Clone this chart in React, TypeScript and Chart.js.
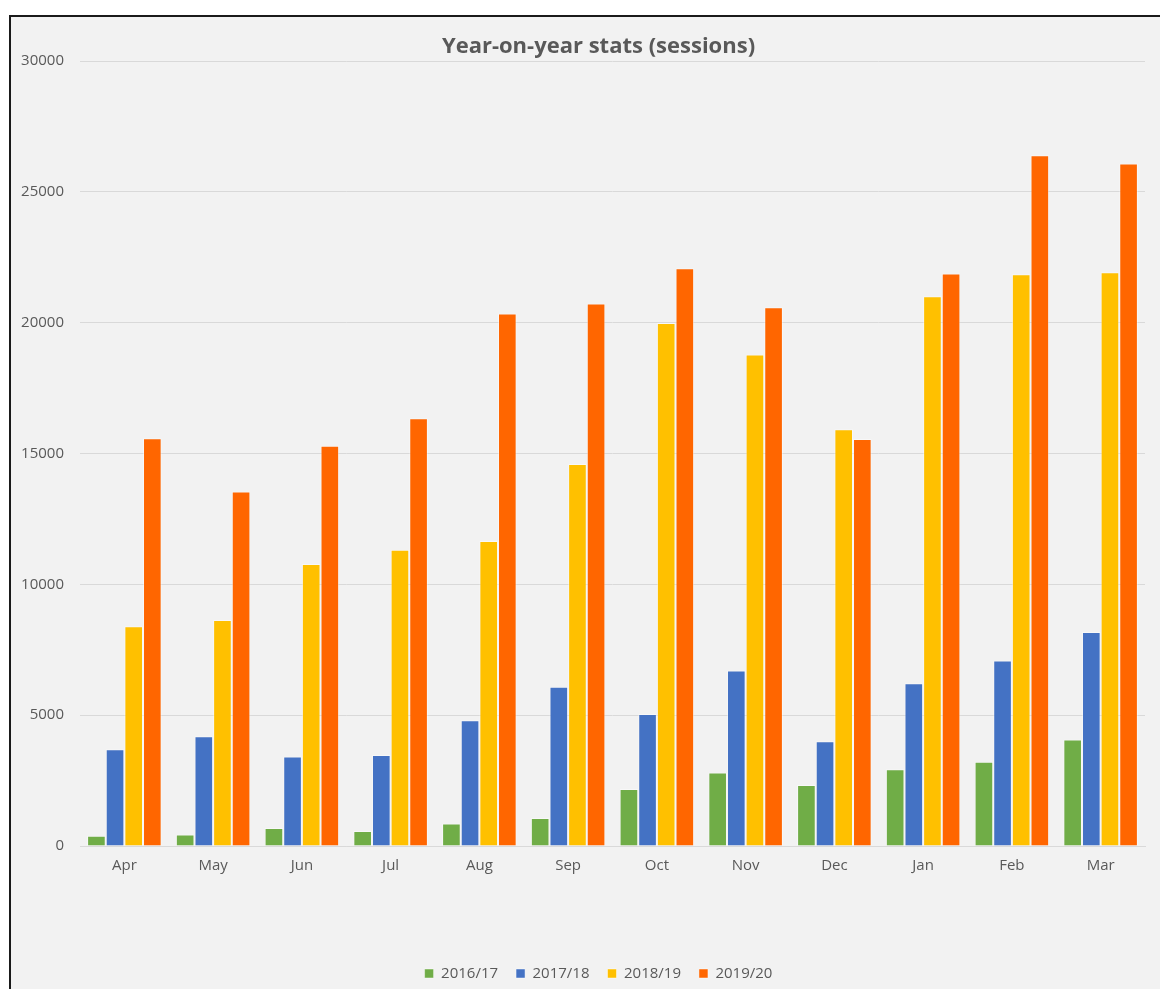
import React, { useEffect, useRef } from "react";
import { Chart, registerables } from "chart.js";

Chart.register(...registerables);

const months = ["Apr", "May", "Jun", "Jul", "Aug", "Sep", "Oct", "Nov", "Dec", "Jan", "Feb", "Mar"];
const seriesLabels = ["2016/17", "2017/18", "2018/19", "2019/20"];
const s2016 = [390, 440, 690, 570, 860, 1070, 2180, 2810, 2330, 2930, 3220, 4070];
const s2017 = [3700, 4190, 3420, 3480, 4810, 6090, 5040, 6710, 4000, 6220, 7090, 8180];
const s2018 = [8400, 8640, 10780, 11320, 11660, 14600, 19990, 18780, 15930, 21010, 21850, 21930];
const s2019 = [15580, 13550, 15300, 16350, 20350, 20730, 22080, 20590, 15550, 21880, 26400, 26080];
const seriesColors = ["#70ad47", "#4472c4", "#ffc000", "#ff6600"];
const yMin = 0;
const yMax = 30000;
const yStep = 5000;

const TEXT = "#595959";
const GRID = "#d9d9d9";
const FONT = "'Open Sans', 'Noto Sans', sans-serif";

const CANVAS_W = 1179;
const CANVAS_H = 976;

export default function App() {
  const ref = useRef<HTMLCanvasElement>(null);

  useEffect(() => {
    if (!ref.current) return;
    const allSeries = [s2016, s2017, s2018, s2019];
    const chart = new Chart(ref.current, {
      type: "bar",
      data: {
        labels: months,
        datasets: allSeries.map((d, i) => ({
          label: seriesLabels[i],
          data: d,
          backgroundColor: seriesColors[i],
          borderColor: "rgba(255,255,255,0.45)",
          borderWidth: 1,
          categoryPercentage: 0.84,
          barPercentage: 1,
        })),
      },
      options: {
        responsive: false,
        animation: false,
        devicePixelRatio: 1,
        layout: { padding: { top: 18.8, left: 0, right: 0, bottom: 0 } },
        plugins: {
          title: {
            display: true,
            text: "Year-on-year stats (sessions)",
            color: TEXT,
            font: { family: FONT, size: 22, weight: "bold" },
            padding: { top: 0, bottom: 0.8 },
          },
          legend: {
            position: "bottom",
            labels: {
              boxWidth: 9,
              boxHeight: 9,
              padding: 18,
              color: TEXT,
              font: { family: FONT, size: 15 },
            },
          },
          tooltip: { enabled: false },
        },
        scales: {
          x: {
            grid: { display: false },
            border: { display: true, color: GRID, width: 1 },
            ticks: { color: TEXT, font: { family: FONT, size: 15 }, padding: 3 },
            afterFit: (s: any) => {
              s.height = 102;
            },
          },
          y: {
            min: yMin,
            max: yMax,
            ticks: {
              stepSize: yStep,
              padding: 16,
              color: TEXT,
              font: { family: FONT, size: 15 },
              callback: (v: any) => String(v),
            },
            grid: { color: GRID, drawTicks: false, lineWidth: 1 },
            border: { display: false },
            afterFit: (s: any) => {
              s.width = 71;
            },
          },
          yR: {
            type: "linear",
            position: "right",
            display: true,
            grid: { display: false, drawTicks: false },
            border: { display: false },
            ticks: { display: false },
            afterFit: (s: any) => {
              s.width = CANVAS_W - 1136;
            },
          },
        },
      } as any,
    });
    return () => chart.destroy();
  }, []);

  return (
    <div
      style={{
        position: "fixed",
        left: 0,
        top: 0,
        width: 1160,
        height: 989,
        overflow: "hidden",
        background: "#ffffff",
      }}
    >
      <div
        style={{
          position: "absolute",
          left: 9,
          top: 15,
          width: 1200,
          height: 1000,
          borderTop: "2px solid #1a1a1a",
          borderLeft: "2px solid #1a1a1a",
          background: "#f2f2f2",
        }}
      />
      <canvas
        ref={ref}
        width={CANVAS_W}
        height={CANVAS_H}
        style={{ position: "absolute", left: 9, top: 15 }}
      />
    </div>
  );
}
